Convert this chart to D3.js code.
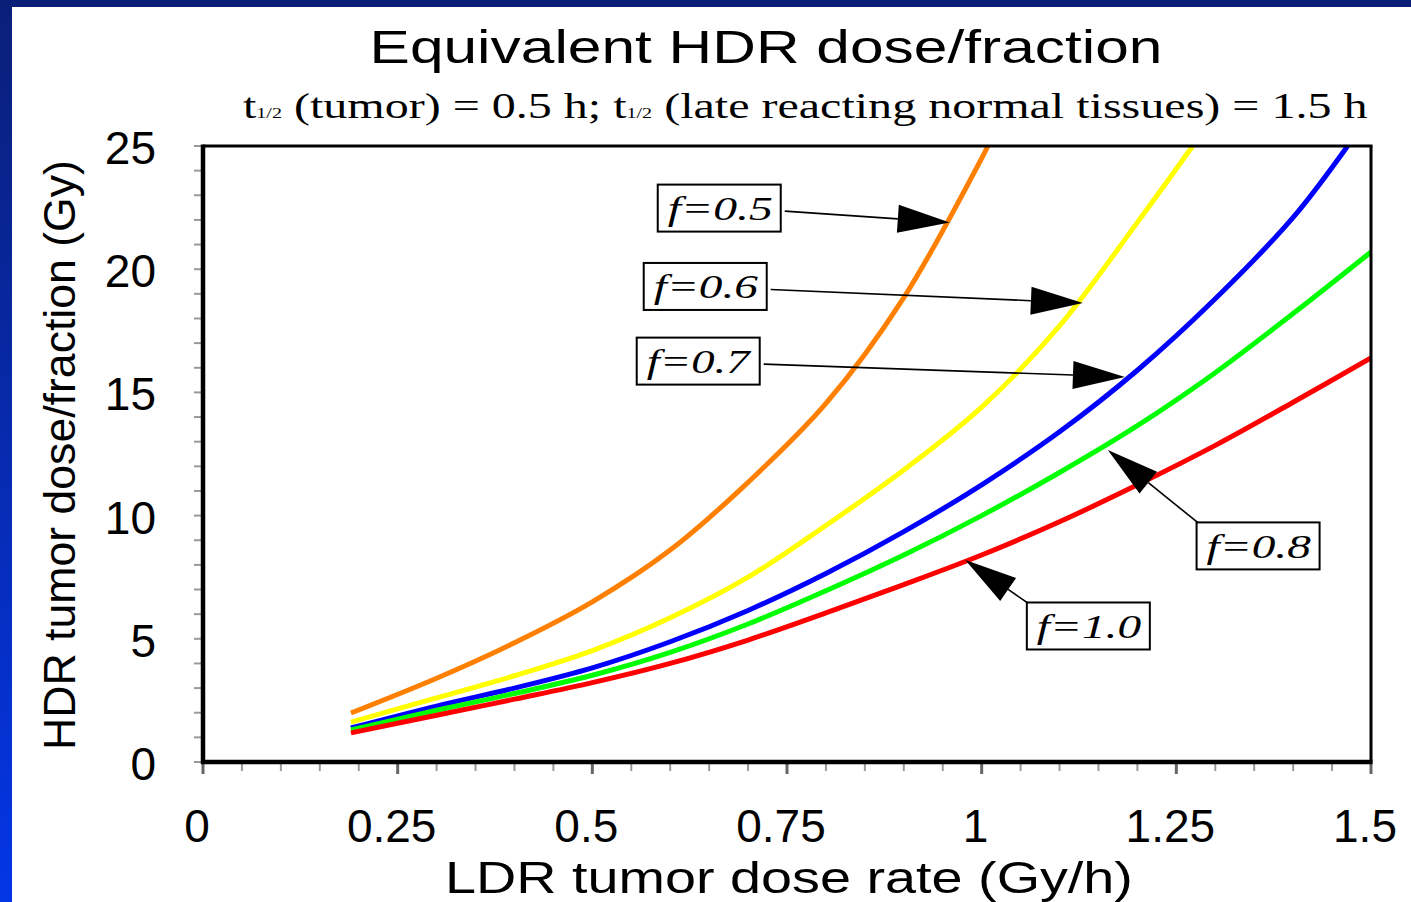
<!DOCTYPE html>
<html><head><meta charset="utf-8">
<script src="https://cdn.jsdelivr.net/npm/d3@7"></script>
<style>html,body{margin:0;padding:0;background:#fff;overflow:hidden}svg{display:block}</style>
</head><body>
<svg id="chart" width="1411" height="902"></svg>
<script>
// ---------------- data ----------------
const xValues = [0.19, 0.3, 0.4, 0.5, 0.6, 0.7, 0.8, 0.9, 1.0, 1.1, 1.2, 1.3, 1.4, 1.5];
const seriesNames = ["f=0.5", "f=0.6", "f=0.7", "f=0.8", "f=1.0"];
const f05 = [1.99, 3.4, 4.84, 6.5, 8.6, 11.35, 14.55, 18.85, 24.5, null, null, null, null, null];
const f06 = [1.62, 2.6, 3.5, 4.52, 5.85, 7.5, 9.6, 11.85, 14.4, 17.7, 21.9, null, null, null];
const f07 = [1.38, 2.27, 3.0, 3.82, 4.88, 6.15, 7.65, 9.35, 11.25, 13.4, 15.9, 18.8, 22.1, null];
const f08 = [1.30, 2.1, 2.78, 3.52, 4.45, 5.6, 6.95, 8.4, 10.0, 11.75, 13.65, 15.8, 18.2, 20.7];
const f10 = [1.18, 1.9, 2.55, 3.22, 4.0, 4.95, 6.05, 7.2, 8.4, 9.75, 11.25, 12.85, 14.6, 16.4];
// x where a curve leaves the top of the plot (y = 25), null if it does not
const topExitX = [1.008, 1.271, 1.47, null, null];
const seriesColors = ["#ff8000", "#ffff00", "#0000ff", "#00ff00", "#ff0000"];

const xTickValues = [0, 0.25, 0.5, 0.75, 1, 1.25, 1.5];
const xTickLabels = ["0", "0.25", "0.5", "0.75", "1", "1.25", "1.5"];
const yTickValues = [0, 5, 10, 15, 20, 25];
const yTickLabels = ["0", "5", "10", "15", "20", "25"];

const titleText = "Equivalent HDR dose/fraction";
const xAxisTitle = "LDR tumor dose rate (Gy/h)";
const yAxisTitle = "HDR tumor dose/fraction (Gy)";

// annotation: label, arrow tip (data coords), box left / box centre (data coords)
const annotLabels = ["f=0.5", "f=0.6", "f=0.7", "f=0.8", "f=1.0"];
const annotTipX = [0.959, 1.130, 1.184, 1.162, 0.979];
const annotTipY = [21.9, 18.63, 15.63, 12.66, 8.2];
const annotBoxX = [0.584, 0.566, 0.557, 1.276, 1.058];
const annotBoxY = [22.48, 19.3, 16.27, 8.77, 5.52];

// ---------------- layout ----------------
const W = 1411, H = 902;
const svg = d3.select("#chart");
const defs = svg.append("defs");
const grad = defs.append("linearGradient").attr("id", "bg").attr("x1", 0).attr("y1", 0).attr("x2", 0).attr("y2", 1);
grad.append("stop").attr("offset", "0%").attr("stop-color", "#0a1f78");
grad.append("stop").attr("offset", "100%").attr("stop-color", "#0336e6");
svg.append("rect").attr("width", W).attr("height", H).attr("fill", "url(#bg)");
svg.append("rect").attr("x", 12).attr("y", 7).attr("width", W - 12).attr("height", H - 7).attr("fill", "#fff");

const plot = {left: 203, right: 1371, top: 146, bottom: 762};
const x = d3.scaleLinear().domain([0, 1.5]).range([plot.left, plot.right]);
const y = d3.scaleLinear().domain([0, 25]).range([plot.bottom, plot.top]);

function fitText(parent, str, tx, ty, targetW, opts) {
  const g = parent.append("g");
  const t = g.append("text").attr("x", 0).attr("y", 0)
    .attr("text-anchor", opts.anchor || "middle")
    .attr("font-family", opts.family)
    .attr("font-size", opts.size)
    .attr("font-style", opts.style || "normal")
    .attr("fill", "#000");
  if (opts.build) opts.build(t); else t.text(str);
  const w = t.node().getBBox().width;
  const sx = targetW / w;
  g.attr("transform", `translate(${tx},${ty})` + (opts.rotate ? ` rotate(${opts.rotate})` : "") + ` scale(${sx},1)`);
  return g;
}

// title
fitText(svg, titleText, 766, 63, 793, {family: "Liberation Sans, Arial, sans-serif", size: 46});
// subtitle with t1/2
fitText(svg, null, 243, 118, 1125, {family: "Liberation Serif, Times New Roman, serif", size: 36, anchor: "start",
  build: t => {
    t.append("tspan").text("t");
    t.append("tspan").attr("font-size", 15).text("1/2");
    t.append("tspan").text(" (tumor) = 0.5 h; t");
    t.append("tspan").attr("font-size", 15).text("1/2");
    t.append("tspan").text(" (late reacting normal tissues) = 1.5 h");
  }});

// ticks
const isMajorX = d => Math.abs(d / 0.25 - Math.round(d / 0.25)) < 1e-6;
const minorX = d3.range(0, 31).map(i => i * 0.05);
svg.append("g").selectAll("line").data(minorX).join("line")
  .attr("x1", d => x(d)).attr("x2", d => x(d))
  .attr("y1", plot.bottom).attr("y2", d => plot.bottom + (isMajorX(d) ? 12 : 9))
  .attr("stroke", d => (isMajorX(d) ? "#666" : "#999"))
  .attr("stroke-width", d => (isMajorX(d) ? 3 : 2));
const minorY = d3.range(0, 26);
svg.append("g").selectAll("line").data(minorY).join("line")
  .attr("y1", d => y(d)).attr("y2", d => y(d))
  .attr("x1", plot.left).attr("x2", plot.left - 9)
  .attr("stroke", "#999").attr("stroke-width", 2);

// tick labels
svg.append("g").selectAll("text").data(xTickValues).join("text")
  .attr("x", d => x(d) - 6).attr("y", 842)
  .attr("text-anchor", "middle")
  .attr("font-family", "Liberation Sans, Arial, sans-serif").attr("font-size", 46)
  .text((d, i) => xTickLabels[i]);
svg.append("g").selectAll("text").data(yTickValues).join("text")
  .attr("x", 156).attr("y", d => y(d) + 18)
  .attr("text-anchor", "end")
  .attr("font-family", "Liberation Sans, Arial, sans-serif").attr("font-size", 46)
  .text((d, i) => yTickLabels[i]);

// axis titles
fitText(svg, xAxisTitle, 789, 893, 688, {family: "Liberation Sans, Arial, sans-serif", size: 44});
fitText(svg, yAxisTitle, 75, 455, 590, {family: "Liberation Sans, Arial, sans-serif", size: 44, rotate: -90});

// curves
defs.append("clipPath").attr("id", "clip").append("rect")
  .attr("x", plot.left).attr("y", plot.top - 2).attr("width", plot.right - plot.left).attr("height", plot.bottom - plot.top + 2);
const allSeries = [f05, f06, f07, f08, f10];
const line = d3.line().x(d => x(d[0])).y(d => y(d[1])).curve(d3.curveCatmullRom.alpha(0.5));
const curves = svg.append("g").attr("clip-path", "url(#clip)");
allSeries.forEach((vals, i) => {
  const pts = xValues.map((xv, j) => [xv, vals[j]]).filter(p => p[1] != null);
  if (topExitX[i] != null) pts.push([topExitX[i], 25]);
  curves.append("path").datum(pts)
    .attr("d", line).attr("fill", "none")
    .attr("stroke", seriesColors[i]).attr("stroke-width", 5)
    .attr("stroke-linejoin", "round").attr("stroke-linecap", "butt");
});

// frame
svg.append("line").attr("x1", plot.left).attr("x2", plot.right + 1.5).attr("y1", plot.top).attr("y2", plot.top).attr("stroke", "#000").attr("stroke-width", 3);
svg.append("line").attr("x1", plot.right).attr("x2", plot.right).attr("y1", plot.top).attr("y2", plot.bottom).attr("stroke", "#000").attr("stroke-width", 3);
svg.append("line").attr("x1", plot.left).attr("x2", plot.left).attr("y1", plot.top - 1.5).attr("y2", plot.bottom + 2).attr("stroke", "#000").attr("stroke-width", 4.5);
svg.append("line").attr("x1", plot.left - 2).attr("x2", plot.right + 1.5).attr("y1", plot.bottom).attr("y2", plot.bottom).attr("stroke", "#000").attr("stroke-width", 4.5);

// annotations
const boxW = 123, boxH = 47;
const ann = svg.append("g");
annotLabels.forEach((lab, i) => {
  const tx = x(annotTipX[i]), ty = y(annotTipY[i]);
  const bx = x(annotBoxX[i]), bcy = y(annotBoxY[i]);
  const by = bcy - boxH / 2;
  const boxRightOfTip = bx > tx;
  const sx = boxRightOfTip ? bx + 6 : bx + boxW + 4;
  const sy = boxRightOfTip ? by + 4 : bcy + 3;
  const dx = tx - sx, dy = ty - sy, len = Math.hypot(dx, dy);
  const ux = dx / len, uy = dy / len;
  const headL = 52, headW = 14;
  const baseX = tx - ux * headL, baseY = ty - uy * headL;
  ann.append("line").attr("x1", sx).attr("y1", sy).attr("x2", baseX).attr("y2", baseY)
    .attr("stroke", "#000").attr("stroke-width", 1.6);
  ann.append("path")
    .attr("d", `M${tx},${ty} L${baseX - uy * headW},${baseY + ux * headW} L${baseX + uy * headW},${baseY - ux * headW} Z`)
    .attr("fill", "#000");
  ann.append("rect").attr("x", bx).attr("y", by).attr("width", boxW).attr("height", boxH)
    .attr("fill", "#fff").attr("stroke", "#000").attr("stroke-width", 2);
  fitText(ann, lab, bx + 10, bcy + 12, 105, {family: "Liberation Serif, Times New Roman, serif", size: 33, style: "italic", anchor: "start"});
});
</script>
</body></html>
